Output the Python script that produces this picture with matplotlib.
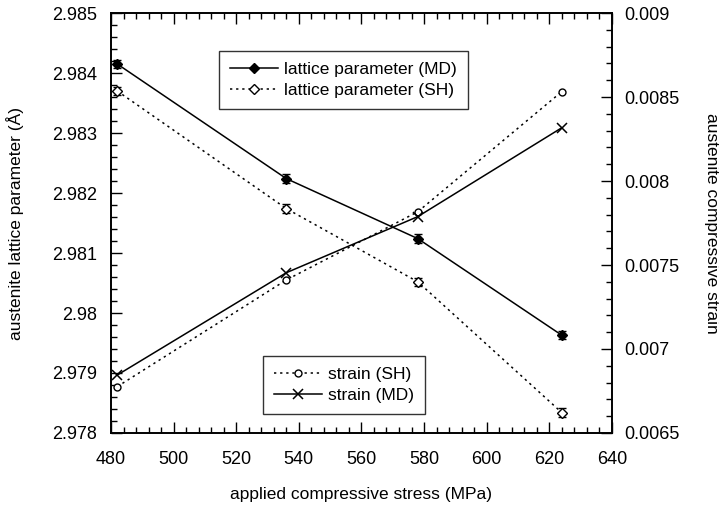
import numpy as np
import matplotlib.pyplot as plt
from matplotlib.ticker import MultipleLocator, FixedLocator, FuncFormatter

plt.rcParams['font.family'] = ['Liberation Sans', 'DejaVu Sans']

stress = [482, 536, 578, 624]

# lattice parameter (Angstrom)
lat_md = [2.98415, 2.98224, 2.98124, 2.97963]
lat_sh = [2.98370, 2.98174, 2.98052, 2.97834]
lat_err = [0.00007, 0.00007, 0.00007, 0.00007]

# compressive strain
strain_sh = [0.006776, 0.007411, 0.007817, 0.008532]
strain_md = [0.006845, 0.007454, 0.007788, 0.008317]

lat_labels = ['lattice parameter (MD)', 'lattice parameter (SH)']
strain_labels = ['strain (SH)', 'strain (MD)']

dotted = (0, (1.5, 2.5))

fig = plt.figure(figsize=(7.19, 5.12), dpi=100)
ax = fig.add_axes([0.1544, 0.1543, 0.6966, 0.8203])
ax2 = ax.twinx()

h1 = ax.errorbar(stress, lat_md, yerr=lat_err, color='k', lw=1.1, marker='D', ms=5,
                 mfc='k', capsize=3, elinewidth=1)
h2 = ax.errorbar(stress, lat_sh, yerr=lat_err, color='k', lw=1.1, ls=dotted, marker='D', ms=5,
                 mfc='white', capsize=3, elinewidth=1)
h3, = ax2.plot(stress, strain_sh, color='k', lw=1.1, ls=dotted, marker='o', ms=5,
               mfc='white')
h4, = ax2.plot(stress, strain_md, color='k', lw=1.1, marker='x', ms=7, mew=1.1)

ax.set_xlim(480, 640)
ax.set_ylim(2.978, 2.985)
ax2.set_ylim(0.0065, 0.009)

ax.xaxis.set_major_locator(MultipleLocator(20))
ax.xaxis.set_minor_locator(MultipleLocator(4))
ax.yaxis.set_major_locator(FixedLocator([2.978, 2.979, 2.980, 2.981, 2.982, 2.983, 2.984, 2.985]))
ax.yaxis.set_minor_locator(MultipleLocator(0.0002))
ax2.yaxis.set_major_locator(FixedLocator([0.0065, 0.007, 0.0075, 0.008, 0.0085, 0.009]))
ax2.yaxis.set_minor_locator(MultipleLocator(0.0001))

fmt = FuncFormatter(lambda v, pos: '%g' % round(v, 6))
ax.yaxis.set_major_formatter(fmt)
ax2.yaxis.set_major_formatter(fmt)

ax.tick_params(which='both', direction='in', top=True, right=False, labelsize=13)
ax.tick_params(axis='x', pad=13)
ax.tick_params(axis='y', pad=10)
ax.tick_params(which='major', length=8, width=1)
ax.tick_params(which='minor', length=4, width=1)
ax2.tick_params(which='both', direction='in', labelsize=13, pad=9)
ax2.tick_params(which='major', length=8, width=1)
ax2.tick_params(which='minor', length=4, width=1)

for a in (ax, ax2):
    for s in a.spines.values():
        s.set_linewidth(1.2)

ax.set_xlabel('applied compressive stress (MPa)', fontsize=12.5, labelpad=14)
ax.set_ylabel('austenite lattice parameter (Å)', fontsize=12.5, labelpad=20)
ax2.set_ylabel('austenite compressive strain', fontsize=12.5, rotation=-90, labelpad=28)

leg_kw = dict(fontsize=12.5, frameon=True, fancybox=False, edgecolor='k',
              handlelength=2.75, handletextpad=0.35, borderpad=0.65,
              labelspacing=0.3, borderaxespad=0)
leg1 = ax2.legend([h1.lines[0], h2.lines[0]], lat_labels, loc='upper left',
                  bbox_to_anchor=(0.2156, 0.9095), **leg_kw)
leg1.get_frame().set_linewidth(1)
ax2.add_artist(leg1)
leg2 = ax2.legend([h3, h4], strain_labels, loc='lower left',
                  bbox_to_anchor=(0.3034, 0.045), **leg_kw)
leg2.get_frame().set_linewidth(1)

fig.savefig('out.png', dpi=100)
